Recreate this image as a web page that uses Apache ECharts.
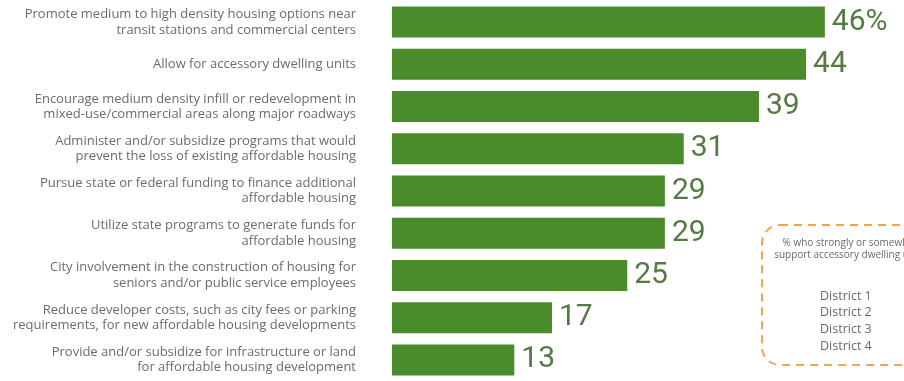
<!DOCTYPE html>
<html>
<head>
<meta charset="utf-8">
<script src="https://cdn.jsdelivr.net/npm/echarts@6/dist/echarts.min.js"></script>
<style>
  html, body { margin: 0; padding: 0; background: #ffffff; }
  #chart { width: 904px; height: 381px; }
</style>
</head>
<body>
<div id="chart"></div>
<script>
// Housing policy options, share of respondents in support (%)
const policies = [
  'Promote medium to high density housing options near\ntransit stations and commercial centers',
  'Allow for accessory dwelling units',
  'Encourage medium density infill or redevelopment in\nmixed-use/commercial areas along major roadways',
  'Administer and/or subsidize programs that would\nprevent the loss of existing affordable housing',
  'Pursue state or federal funding to finance additional\naffordable housing',
  'Utilize state programs to generate funds for\naffordable housing',
  'City involvement in the construction of housing for\nseniors and/or public service employees',
  'Reduce developer costs, such as city fees or parking\nrequirements, for new affordable housing developments',
  'Provide and/or subsidize for infrastructure or land\nfor affordable housing development'
];
const supportPct = [46, 44, 39, 31, 29, 29, 25, 17, 13];

// Side note about accessory dwelling units by district
const noteLines = ['% who strongly or somewhat', 'support accessory dwelling units'];
const districts = ['District 1', 'District 2', 'District 3', 'District 4'];

const chart = echarts.init(document.getElementById('chart'));

const districtText = districts.map((d, i) => ({
  type: 'text',
  x: 820,
  y: 296 + i * 16.7,
  style: {
    text: d,
    font: '12.5px "Open Sans", sans-serif',
    fill: '#6a6a6a',
    align: 'left',
    verticalAlign: 'middle'
  }
}));

chart.setOption({
  backgroundColor: '#ffffff',
  animation: false,
  grid: { left: 392, top: 1, width: 470.5, height: 384.75 },
  xAxis: {
    type: 'value',
    min: 0,
    max: 50,
    show: false
  },
  yAxis: {
    type: 'category',
    inverse: true,
    data: policies,
    axisLine: { show: false },
    axisTick: { show: false },
    splitLine: { show: false },
    axisLabel: {
      margin: 36,
      align: 'right',
      color: '#6b6b6b',
      fontFamily: '"Open Sans", sans-serif',
      fontSize: 13,
      lineHeight: 15.5
    }
  },
  series: [{
    type: 'bar',
    data: supportPct,
    barWidth: 31,
    itemStyle: { color: '#4a8b2c' },
    label: {
      show: true,
      position: 'right',
      distance: 7,
      color: '#567a45',
      fontFamily: 'Roboto, sans-serif',
      fontSize: 30,
      formatter: p => p.dataIndex === 0 ? p.value + '%' : String(p.value)
    }
  }],
  graphic: [
    {
      type: 'rect',
      shape: { x: 762, y: 225, width: 220, height: 140, r: 18 },
      style: {
        fill: 'none',
        stroke: '#f0a45a',
        lineWidth: 2,
        lineDash: [8, 6]
      }
    },
    {
      type: 'text',
      x: 850,
      y: 249,
      style: {
        text: noteLines.join('\n'),
        font: '10px "Open Sans", sans-serif',
        fill: '#6a6a6a',
        align: 'center',
        verticalAlign: 'middle',
        lineHeight: 11.5
      }
    }
  ].concat(districtText)
});
</script>
</body>
</html>
